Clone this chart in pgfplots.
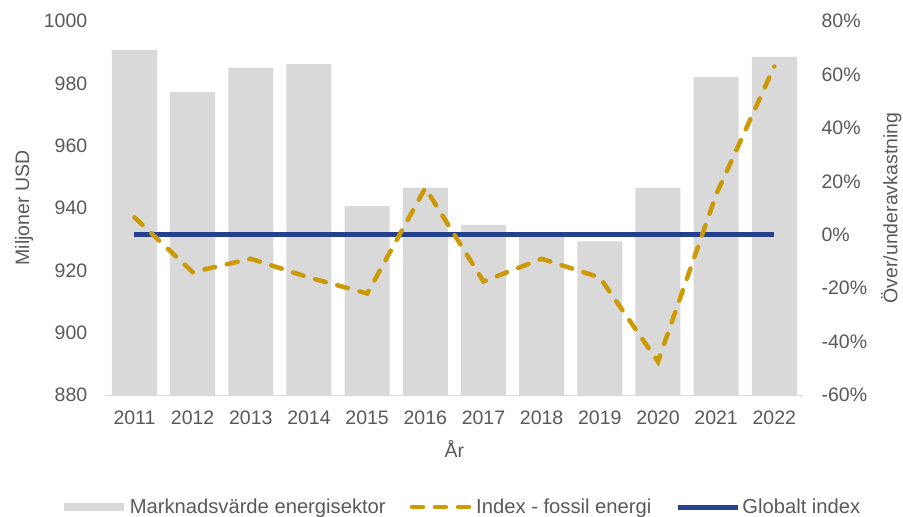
\documentclass[border=0pt]{standalone}
\usepackage{fontspec}
\setmainfont{Liberation Sans}
\usepackage{pgfplots}
\pgfplotsset{compat=1.18}
\definecolor{barc}{HTML}{D9D9D9}
\definecolor{goldc}{HTML}{CC9A06}
\definecolor{bluec}{HTML}{24408E}
\definecolor{txt}{HTML}{595959}
\begin{document}
\begin{tikzpicture}
\useasboundingbox (0,0) rectangle (903pt,517pt);
\pgfplotsset{
 common/.style={
  at={(105.4pt,122pt)}, anchor=south west,
  scale only axis, width=698pt, height=374pt,
  xmin=-0.5, xmax=11.5,
  axis line style={draw=none},
  major tick length=0pt, tick style={draw=none},
  every tick label/.append style={font=\fontsize{19.5}{23}\selectfont, text=txt},
  label style={font=\fontsize{19.5}{23}\selectfont, text=txt},
 }
}
\begin{axis}[common,
  ymin=880, ymax=1000, ytick={880,900,920,940,960,980,1000},
  yticklabels={880,900,920,940,960,980,1000},
  xtick={0,1,2,3,4,5,6,7,8,9,10,11},
  xticklabels={2011,2012,2013,2014,2015,2016,2017,2018,2019,2020,2021,2022},
  xticklabel style={inner sep=0pt, anchor=north, yshift=-16pt},
  yticklabel style={inner sep=0pt, anchor=east, xshift=-18pt},
  ylabel={Miljoner USD},
  ylabel style={at={(axis description cs:-0.1166,0.5)}, anchor=center},
  xlabel={År},
  xlabel style={at={(axis description cs:0.5,-0.166)}, anchor=base},
]
\addplot[ybar, bar width=45pt, fill=barc, draw=none] coordinates {
(0,990.7) (1,977.2) (2,985.0) (3,986.2) (4,940.6) (5,946.5)
(6,934.6) (7,932.2) (8,929.3) (9,946.5) (10,982.1) (11,988.5)};
\draw[barc, line width=1pt] (rel axis cs:0,0) -- (rel axis cs:1,0);
\end{axis}
\begin{axis}[common,
  ymin=-60, ymax=80, ytick={-60,-40,-20,0,20,40,60,80},
  yticklabels={-60\%,-40\%,-20\%,0\%,20\%,40\%,60\%,80\%},
  axis y line*=right, hide x axis,
  yticklabel style={inner sep=0pt, anchor=west, xshift=18pt},
  ylabel={Över/underavkastning},
  ylabel style={at={(axis description cs:1.126,0.5)}, anchor=center},
  legend style={at={(axis description cs:0.5095,-0.2995)}, anchor=center,
    draw=none, fill=none, legend columns=3,
    font=\fontsize{20.2}{24}\selectfont, text=txt,
    /tikz/every even column/.append style={column sep=22pt}},
  legend image code/.code={\draw[#1] (0pt,0pt) -- (60pt,0pt);},
]
\addlegendimage{barc, line width=8pt}
\addlegendentry{Marknadsvärde energisektor}
\addlegendimage{goldc, line width=4.5pt, dash pattern=on 11pt off 12pt, line cap=round}
\addlegendentry{Index - fossil energi}
\addlegendimage{bluec, line width=5pt}
\addlegendentry{Globalt index}
\addplot[bluec, line width=5pt, forget plot] coordinates {
(0,0) (1,0) (2,0) (3,0) (4,0) (5,0) (6,0) (7,0) (8,0) (9,0) (10,0) (11,0)};
\addplot[goldc, line width=4.5pt, dash pattern=on 11pt off 12pt, line cap=round, forget plot] coordinates {
(0,6.5) (1,-14) (2,-9) (3,-16) (4,-22) (5,17.5)
(6,-17.5) (7,-9) (8,-16) (9,-47.5) (10,15) (11,63)};
\end{axis}
\end{tikzpicture}
\end{document}
